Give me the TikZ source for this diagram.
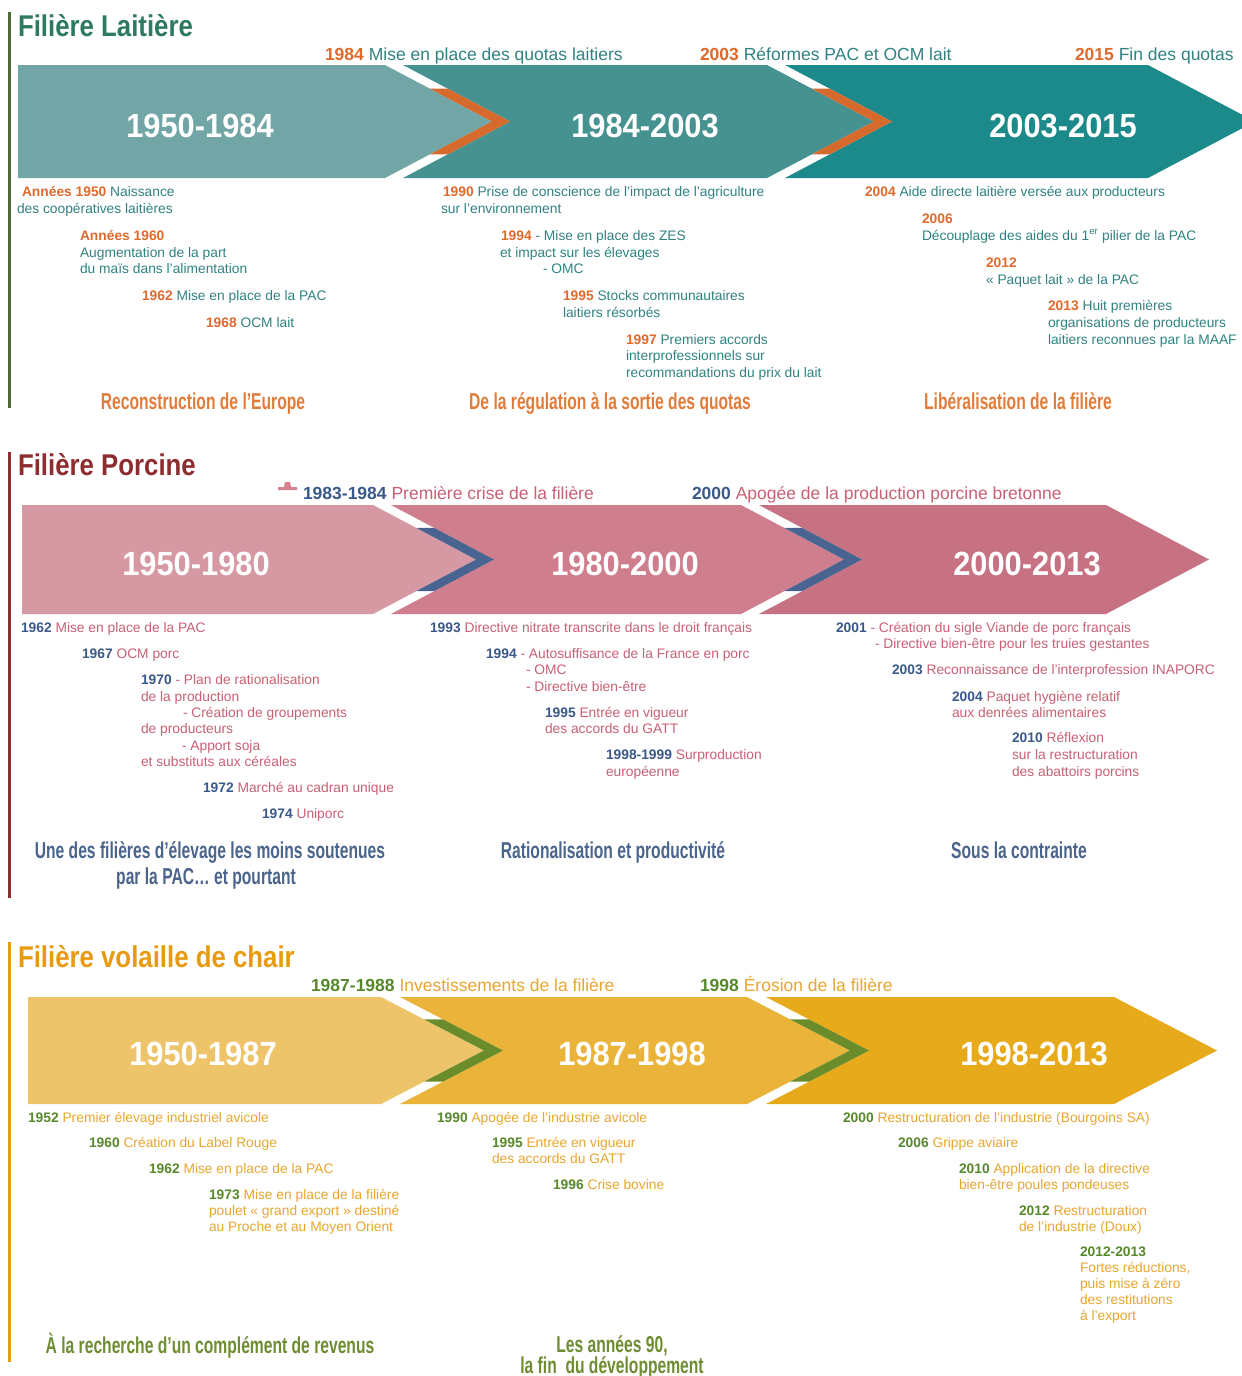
\documentclass[tikz,border=0pt]{standalone}
\usepackage{fontspec}
\setmainfont{Liberation Sans}
\newfontfamily\ttlfont[FakeStretch=0.86]{Liberation Sans}
\newfontfamily\yrfont[FakeStretch=0.92]{Liberation Sans}
\newfontfamily\subfont[FakeStretch=0.68]{Liberation Sans}
% Laitiere
\definecolor{ltA}{RGB}{114,166,166}
\definecolor{ltB}{RGB}{70,146,145}
\definecolor{ltC}{RGB}{28,138,138}
\definecolor{ltK}{RGB}{214,106,44}
\definecolor{ltTitle}{RGB}{45,122,95}
\definecolor{ltBar}{RGB}{79,106,58}
\definecolor{ltY}{RGB}{222,106,44}
\definecolor{ltT}{RGB}{48,130,130}
\definecolor{ltS}{RGB}{226,124,58}
% Porcine
\definecolor{pgA}{RGB}{214,152,162}
\definecolor{pgB}{RGB}{206,126,140}
\definecolor{pgC}{RGB}{198,114,131}
\definecolor{pgK}{RGB}{74,100,145}
\definecolor{pgTitle}{RGB}{142,45,48}
\definecolor{pgY}{RGB}{58,88,138}
\definecolor{pgT}{RGB}{200,96,116}
\definecolor{pgS}{RGB}{74,100,140}
\definecolor{pgMark}{RGB}{214,130,140}
% Volaille
\definecolor{vlA}{RGB}{238,196,106}
\definecolor{vlB}{RGB}{234,180,58}
\definecolor{vlC}{RGB}{230,170,26}
\definecolor{vlK}{RGB}{106,140,42}
\definecolor{vlTitle}{RGB}{232,154,16}
\definecolor{vlY}{RGB}{88,136,44}
\definecolor{vlT}{RGB}{232,166,48}
\definecolor{vlS}{RGB}{110,140,50}

\newcommand{\ly}[1]{\textbf{\color{ltY}#1}}
\newcommand{\py}[1]{\textbf{\color{pgY}#1}}
\newcommand{\vy}[1]{\textbf{\color{vlY}#1}}

% T B L1 R1 R2 R3 d g prefix
\newcommand{\arrowrow}[9]{%
 \pgfmathsetmacro\rM{(#1+#2)/2}%
 \pgfmathsetmacro\rH{\rM-#1}%
 \pgfmathsetmacro\yA{#1+0.42*\rH}%
 \pgfmathsetmacro\yB{#2-0.42*\rH}%
 \pgfmathsetmacro\tA{#4+#7}%
 \pgfmathsetmacro\nA{#4+#8}%
 \pgfmathsetmacro\tB{#5+#7}%
 \pgfmathsetmacro\nB{#5+#8}%
 \pgfmathsetmacro\tC{#6+#7}%
 \pgfmathsetmacro\cA{#4+0.42*#7}%
 \pgfmathsetmacro\cB{#5+0.42*#7}%
 \fill[fill=#9A] (#3,#1) -- (#4,#1) -- (\tA,\rM) -- (#4,#2) -- (#3,#2) -- cycle;
 \fill[fill=#9B] (\nA,#1) -- (#5,#1) -- (\tB,\rM) -- (#5,#2) -- (\nA,#2) -- ({\tA+#8},\rM) -- cycle;
 \fill[fill=#9C] (\nB,#1) -- (#6,#1) -- (\tC,\rM) -- (#6,#2) -- (\nB,#2) -- ({\tB+#8},\rM) -- cycle;
 \fill[fill=#9K] (\cA,\yA) -- ({\cA+#8},\yA) -- ({\tA+#8},\rM) -- ({\cA+#8},\yB) -- (\cA,\yB) -- (\tA,\rM) -- cycle;
 \fill[fill=#9K] (\cB,\yA) -- ({\cB+#8},\yA) -- ({\tB+#8},\rM) -- ({\cB+#8},\yB) -- (\cB,\yB) -- (\tB,\rM) -- cycle;
}

\begin{document}
\begin{tikzpicture}[x=1pt,y=-1pt,
 tx/.style={anchor=base west,inner sep=0pt,outer sep=0pt,font=\fontsize{13.8}{16}\selectfont},
 tp/.style={anchor=base west,inner sep=0pt,outer sep=0pt,font=\fontsize{17.5}{20}\selectfont},
 ttl/.style={anchor=base west,inner sep=0pt,outer sep=0pt,font=\ttlfont\bfseries\fontsize{30}{34}\selectfont},
 yr/.style={anchor=base,inner sep=0pt,outer sep=0pt,text=white,font=\yrfont\bfseries\fontsize{33.5}{36}\selectfont},
 sub/.style={anchor=base,inner sep=0pt,outer sep=0pt,font=\subfont\bfseries\fontsize{23}{26}\selectfont},
 subtwo/.style={anchor=center,align=center,inner sep=0pt,outer sep=0pt,font=\subfont\bfseries\fontsize{23}{20}\selectfont},
 sidebar/.style={line width=3pt}]
\useasboundingbox (0,0) rectangle (1242,1376);
\fill[white] (0,0) rectangle (1242,1376);

%================ Laitiere ================
\draw[sidebar,draw=ltBar] (9.5,12) -- (9.5,408);
\node[ttl,text=ltTitle] (ltitle) at (18,36) {Filière Laitière};
\arrowrow{65}{178}{18}{385}{767}{1148}{107}{18}{lt}
\node[yr] (ly1) at (200,137) {1950-1984};
\node[yr] (ly2) at (645,137) {1984-2003};
\node[yr] (ly3) at (1063,137) {2003-2015};
\begin{scope}[every node/.append style={text=ltT}]
\node[tp] (lt1) at (325,60) {\ly{1984} Mise en place des quotas laitiers};
\node[tp] (lt2) at (700,60) {\ly{2003} Réformes PAC et OCM lait};
\node[tp] (lt3) at (1075,60) {\ly{2015} Fin des quotas};
\node[tx] (la1) at (22,196) {\ly{Années 1950} Naissance};
\node[tx] (la2) at (17,213) {des coopératives laitières};
\node[tx] (la3) at (80,240) {\ly{Années 1960}};
\node[tx] (la4) at (80,257) {Augmentation de la part};
\node[tx] (la5) at (80,273) {du maïs dans l’alimentation};
\node[tx] (la6) at (142,300) {\ly{1962} Mise en place de la PAC};
\node[tx] (la7) at (206,327) {\ly{1968} OCM lait};
\node[tx] (lb1) at (443,196) {\ly{1990} Prise de conscience de l’impact de l’agriculture};
\node[tx] (lb2) at (441,213) {sur l’environnement};
\node[tx] (lb3) at (501,240) {\ly{1994} - Mise en place des ZES};
\node[tx] (lb4) at (500,257) {et impact sur les élevages};
\node[tx] (lb5) at (543,273) {- OMC};
\node[tx] (lb6) at (563,300) {\ly{1995} Stocks communautaires};
\node[tx] (lb7) at (563,317) {laitiers résorbés};
\node[tx] (lb8) at (626,344) {\ly{1997} Premiers accords};
\node[tx] (lb9) at (626,360) {interprofessionnels sur};
\node[tx] (lb10) at (626,377) {recommandations du prix du lait};
\node[tx] (lc1) at (865,196) {\ly{2004} Aide directe laitière versée aux producteurs};
\node[tx] (lc2) at (922,223) {\ly{2006}};
\node[tx] (lc3) at (922,240) {Découplage des aides du 1\textsuperscript{er} pilier de la PAC};
\node[tx] (lc4) at (986,267) {\ly{2012}};
\node[tx] (lc5) at (986,284) {« Paquet lait » de la PAC};
\node[tx] (lc6) at (1048,310) {\ly{2013} Huit premières};
\node[tx] (lc7) at (1048,327) {organisations de producteurs};
\node[tx] (lc8) at (1048,344) {laitiers reconnues par la MAAF};
\end{scope}
\begin{scope}[every node/.append style={text=ltS}]
\node[sub] (ls1) at (203,409) {Reconstruction de l’Europe};
\node[sub] (ls2) at (610,409) {De la régulation à la sortie des quotas};
\node[sub] (ls3) at (1018,409) {Libéralisation de la filière};
\end{scope}

%================ Porcine ================
\draw[sidebar,draw=pgTitle] (9.5,452) -- (9.5,898);
\node[ttl,text=pgTitle] (ptitle) at (18,475) {Filière Porcine};
\fill[pgMark] (278,490) -- (278,487) -- (284,487) -- (285,482) -- (290,482) -- (291,487) -- (297,487) -- (297,490) -- cycle;
\arrowrow{505}{614}{22}{373}{741}{1106}{103}{18}{pg}
\node[yr] (py1) at (196,575) {1950-1980};
\node[yr] (py2) at (625,575) {1980-2000};
\node[yr] (py3) at (1027,575) {2000-2013};
\begin{scope}[every node/.append style={text=pgT}]
\node[tp] (pt1) at (303,499) {\py{1983-1984} Première crise de la filière};
\node[tp] (pt2) at (692,499) {\py{2000} Apogée de la production porcine bretonne};
\node[tx] (pa1) at (21,632) {\py{1962} Mise en place de la PAC};
\node[tx] (pa2) at (82,658) {\py{1967} OCM porc};
\node[tx] (pa3) at (141,684) {\py{1970} - Plan de rationalisation};
\node[tx] (pa4) at (141,701) {de la production};
\node[tx] (pa5) at (183,717) {- Création de groupements};
\node[tx] (pa6) at (141,733) {de producteurs};
\node[tx] (pa7) at (182,750) {- Apport soja};
\node[tx] (pa8) at (141,766) {et substituts aux céréales};
\node[tx] (pa9) at (203,792) {\py{1972} Marché au cadran unique};
\node[tx] (pa10) at (262,818) {\py{1974} Uniporc};
\node[tx] (pb1) at (430,632) {\py{1993} Directive nitrate transcrite dans le droit français};
\node[tx] (pb2) at (486,658) {\py{1994} - Autosuffisance de la France en porc};
\node[tx] (pb3) at (526,674) {- OMC};
\node[tx] (pb4) at (526,691) {- Directive bien-être};
\node[tx] (pb5) at (545,717) {\py{1995} Entrée en vigueur};
\node[tx] (pb6) at (545,733) {des accords du GATT};
\node[tx] (pb7) at (606,759) {\py{1998-1999} Surproduction};
\node[tx] (pb8) at (606,776) {européenne};
\node[tx] (pc1) at (836,632) {\py{2001} - Création du sigle Viande de porc français};
\node[tx] (pc2) at (875,648) {- Directive bien-être pour les truies gestantes};
\node[tx] (pc3) at (892,674) {\py{2003} Reconnaissance de l'interprofession INAPORC};
\node[tx] (pc4) at (952,701) {\py{2004} Paquet hygiène relatif};
\node[tx] (pc5) at (952,717) {aux denrées alimentaires};
\node[tx] (pc6) at (1012,742) {\py{2010} Réflexion};
\node[tx] (pc7) at (1012,759) {sur la restructuration};
\node[tx] (pc8) at (1012,776) {des abattoirs porcins};
\end{scope}
\begin{scope}[every node/.append style={text=pgS}]
\node[sub] (ps1) at (210,858) {Une des filières d’élevage les moins soutenues};
\node[sub] (ps2) at (206,884) {par la PAC… et pourtant};
\node[sub] (ps3) at (613,858) {Rationalisation et productivité};
\node[sub] (ps4) at (1019,858) {Sous la contrainte};
\end{scope}

%================ Volaille ================
\draw[sidebar,draw=vlTitle] (9.5,942) -- (9.5,1362);
\node[ttl,text=vlTitle] (vtitle) at (18,967) {Filière volaille de chair};
\arrowrow{997}{1104}{28}{381}{747}{1114}{103}{19}{vl}
\node[yr] (vy1) at (203,1065) {1950-1987};
\node[yr] (vy2) at (632,1065) {1987-1998};
\node[yr] (vy3) at (1034,1065) {1998-2013};
\begin{scope}[every node/.append style={text=vlT}]
\node[tp] (vt1) at (311,991) {\vy{1987-1988} Investissements de la filière};
\node[tp] (vt2) at (700,991) {\vy{1998} Érosion de la filière};
\node[tx] (va1) at (28,1122) {\vy{1952} Premier élevage industriel avicole};
\node[tx] (va2) at (89,1147) {\vy{1960} Création du Label Rouge};
\node[tx] (va3) at (149,1173) {\vy{1962} Mise en place de la PAC};
\node[tx] (va4) at (209,1199) {\vy{1973} Mise en place de la filière};
\node[tx] (va5) at (209,1215) {poulet « grand export » destiné};
\node[tx] (va6) at (209,1231) {au Proche et au Moyen Orient};
\node[tx] (vb1) at (437,1122) {\vy{1990} Apogée de l’industrie avicole};
\node[tx] (vb2) at (492,1147) {\vy{1995} Entrée en vigueur};
\node[tx] (vb3) at (492,1163) {des accords du GATT};
\node[tx] (vb4) at (553,1189) {\vy{1996} Crise bovine};
\node[tx] (vc1) at (843,1122) {\vy{2000} Restructuration de l'industrie (Bourgoins SA)};
\node[tx] (vc2) at (898,1147) {\vy{2006} Grippe aviaire};
\node[tx] (vc3) at (959,1173) {\vy{2010} Application de la directive};
\node[tx] (vc4) at (959,1189) {bien-être poules pondeuses};
\node[tx] (vc5) at (1019,1215) {\vy{2012} Restructuration};
\node[tx] (vc6) at (1019,1231) {de l'industrie (Doux)};
\node[tx] (vc7) at (1080,1256) {\vy{2012-2013}};
\node[tx] (vc8) at (1080,1272) {Fortes réductions,};
\node[tx] (vc9) at (1080,1288) {puis mise à zéro};
\node[tx] (vc10) at (1080,1304) {des restitutions};
\node[tx] (vc11) at (1080,1320) {à l’export};
\end{scope}
\begin{scope}[every node/.append style={text=vlS}]
\node[sub] (vs1) at (210,1353) {À la recherche d’un complément de revenus};
\node[subtwo] (vs2) at (612,1357) {Les années 90,\\la fin~ du développement};
\end{scope}
\end{tikzpicture}
\end{document}
